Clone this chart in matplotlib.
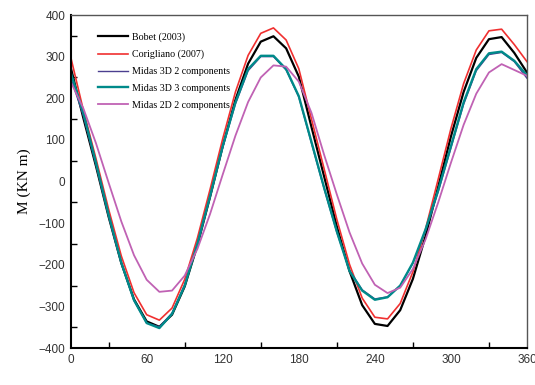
import matplotlib.pyplot as plt
import numpy as np

# angle (deg) and bending moment M (KN m)
theta = np.arange(0, 361, 10)

bobet = [275, 153, 37, -85, -196, -283, -336, -349, -320, -252, -153, -37, 85, 196, 283, 336, 349, 320,
         252, 131, 12, -108, -215, -297, -342, -347, -309, -234, -131, -12, 108, 215, 297, 342, 347, 309, 262]
corigliano = [300, 172, 55, -67, -179, -267, -320, -333, -304, -235, -136, -19, 103, 215, 303, 356, 369, 340,
              271, 150, 30, -91, -199, -280, -326, -330, -293, -217, -114, 6, 127, 235, 316, 362, 366, 329, 288]
midas3d_2 = [250, 158, 40, -84, -197, -286, -340, -349, -316, -248, -150, -37, 82, 186, 266, 300, 300, 268,
             203, 92, -18, -122, -213, -260, -282, -277, -250, -196, -118, -25, 80, 185, 266, 305, 310, 288, 248]
midas3d_3 = [262, 165, 45, -80, -195, -285, -340, -352, -318, -250, -150, -35, 85, 190, 270, 302, 302, 270,
             205, 95, -15, -120, -215, -262, -284, -278, -250, -195, -115, -20, 85, 190, 270, 308, 312, 290, 255]
midas2d_2 = [240, 176, 92, -3, -96, -177, -236, -265, -262, -226, -162, -78, 17, 110, 191, 250, 279, 276,
             240, 165, 64, -31, -122, -197, -248, -268, -255, -210, -139, -50, 45, 136, 211, 262, 282, 268, 254]

fig = plt.figure(figsize=(5.35, 3.85), dpi=100)
ax = fig.add_axes([0.132, 0.096, 0.853, 0.865])

ax.plot(theta, bobet, color='black', lw=1.6, label='Bobet (2003)')
ax.plot(theta, corigliano, color='#f03030', lw=1.2, label='Corigliano (2007)')
ax.plot(theta, midas3d_2, color='#4b3f8f', lw=1.0, label='Midas 3D 2 components')
ax.plot(theta, midas3d_3, color='#008a8a', lw=1.7, label='Midas 3D 3 components')
ax.plot(theta, midas2d_2, color='#c062b4', lw=1.3, label='Midas 2D 2 components')

ax.set_xlim(0, 360)
ax.set_ylim(-400, 400)
ax.set_xticks(np.arange(0, 361, 60))
ax.set_xticks(np.arange(30, 361, 60), minor=True)
ax.set_yticks(np.arange(-400, 401, 100))
ax.set_yticks(np.arange(-350, 400, 100), minor=True)
ax.tick_params(which='major', length=0, labelsize=8.5, labelcolor='#333333', pad=4)
ax.tick_params(which='minor', direction='in', length=4, width=1)
for lab in ax.get_xticklabels() + ax.get_yticklabels():
    lab.set_family('Liberation Sans')

ax.set_ylabel('M (KN m)', family='Liberation Serif', fontsize=11, labelpad=5)

for s in ['left', 'bottom']:
    ax.spines[s].set_linewidth(1.5)
for s in ['top', 'right']:
    ax.spines[s].set_linewidth(1.0)
    ax.spines[s].set_color('#555555')

ax.legend(loc='upper left', bbox_to_anchor=(0.04, 0.975), frameon=False,
          prop={'family': 'Liberation Serif', 'size': 7.2},
          handlelength=3.0, handletextpad=0.4, labelspacing=0.78)

fig.savefig('out.png', dpi=100)
